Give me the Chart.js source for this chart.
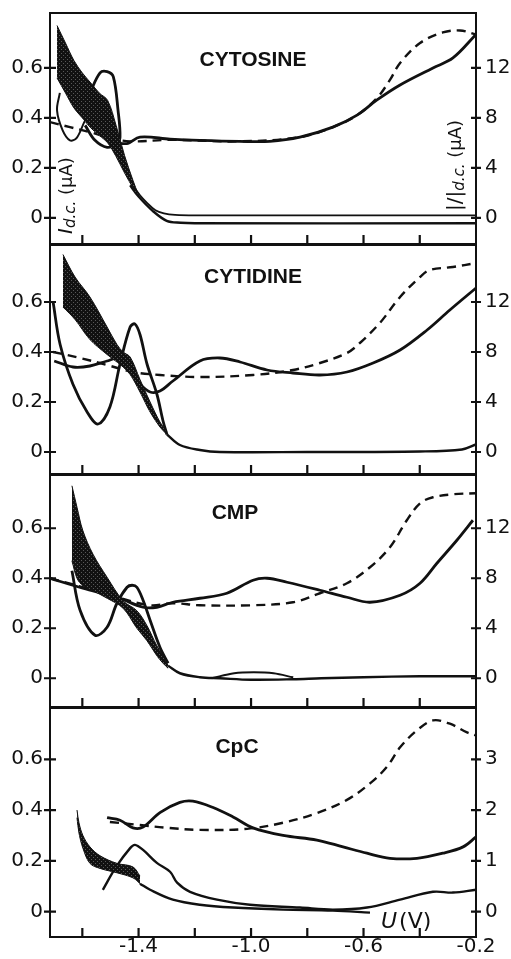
<!DOCTYPE html>
<html>
<head>
<meta charset="utf-8">
<script src="https://cdn.jsdelivr.net/npm/chart.js@4.4.1/dist/chart.umd.min.js"></script>
<style>
html, body { margin: 0; padding: 0; background: #fff; }
#wrap { position: relative; width: 511px; height: 959px; overflow: hidden; }
#wrap canvas { position: absolute; left: 0; }
</style>
</head>
<body>
<div id="wrap">
<canvas id="p1" width="511" height="245" style="top:0px"></canvas>
<canvas id="p2" width="511" height="230" style="top:245px"></canvas>
<canvas id="p3" width="511" height="233" style="top:475px"></canvas>
<canvas id="p4" width="511" height="251" style="top:708px"></canvas>
</div>
<script>
// potential axis (V)
const uMin = -1.715, uMax = -0.2;
const uTickMarks = [-1.6, -1.4, -1.2, -1.0, -0.8, -0.6, -0.4];
const uTickLabels = [-1.4, -1.0, -0.6, -0.2];
// current axes (uA)
const iTicks = [0, 0.2, 0.4, 0.6];
const rightTicks = [0, 4, 8, 12];
const rightTicksCpc = [0, 1, 2, 3];

// CYTOSINE
const cytosineBandU = [-1.69, -1.66, -1.63, -1.60, -1.57, -1.54, -1.51, -1.48, -1.45, -1.42, -1.40];
const cytosineBandHi = [0.77, 0.70, 0.63, 0.58, 0.54, 0.50, 0.47, 0.37, 0.25, 0.15, 0.09];
const cytosineBandLo = [0.56, 0.50, 0.44, 0.40, 0.36, 0.33, 0.30, 0.245, 0.18, 0.12, 0.085];
const cytosineDcU = [-1.45, -1.42, -1.395, -1.37, -1.34, -1.31, -1.27, -1.2, -0.2];
const cytosineDcI = [0.2, 0.13, 0.09, 0.06, 0.03, 0.018, 0.012, 0.01, 0.01];
const cytosineDc2U = [-1.43, -1.40, -1.35, -1.30, -1.25, -1.2, -0.2];
const cytosineDc2I = [0.13, 0.085, 0.028, -0.012, -0.02, -0.022, -0.022];
const cytosineRatioU = [-1.466, -1.438, -1.395, -1.288, -1.182, -1.04, -0.933, -0.826, -0.709, -0.623, -0.552, -0.47, -0.353, -0.282, -0.2];
const cytosineRatioI = [0.298, 0.298, 0.323, 0.315, 0.31, 0.306, 0.306, 0.323, 0.363, 0.411, 0.472, 0.532, 0.60, 0.64, 0.734];
const cytosineDashU = [-1.715, -1.644, -1.573, -1.502, -1.43, -1.288, -1.04, -0.826, -0.709, -0.623, -0.552, -0.506, -0.47, -0.399, -0.318, -0.257, -0.2];
const cytosineDashI = [0.383, 0.363, 0.343, 0.32, 0.306, 0.312, 0.306, 0.323, 0.363, 0.411, 0.48, 0.552, 0.62, 0.70, 0.742, 0.75, 0.734];
const cytosineLoopU = [-1.573, -1.537, -1.512, -1.49, -1.473, -1.466, -1.477, -1.512, -1.555, -1.59];
const cytosineLoopI = [0.50, 0.58, 0.585, 0.565, 0.43, 0.323, 0.298, 0.282, 0.31, 0.37];
const cytosineLoop2U = [-1.68, -1.69, -1.67, -1.644, -1.62, -1.59, -1.555];
const cytosineLoop2I = [0.50, 0.43, 0.35, 0.31, 0.32, 0.39, 0.45];

// CYTIDINE
const cytidineBandU = [-1.669, -1.626, -1.573, -1.512, -1.477, -1.455, -1.43, -1.395, -1.359, -1.324, -1.299];
const cytidineBandHi = [0.79, 0.70, 0.62, 0.50, 0.43, 0.40, 0.38, 0.29, 0.20, 0.12, 0.08];
const cytidineBandLo = [0.58, 0.53, 0.45, 0.39, 0.36, 0.34, 0.31, 0.24, 0.16, 0.10, 0.07];
const cytidineDcU = [-1.299, -1.253, -1.182, -1.111, -0.8, -0.4, -0.25, -0.2];
const cytidineDcI = [0.07, 0.028, 0.008, 0.0, 0.0, 0.002, 0.01, 0.03];
const cytidineDeepU = [-1.704, -1.679, -1.633, -1.583, -1.544, -1.502, -1.466, -1.43, -1.413, -1.395, -1.37, -1.335, -1.313, -1.299];
const cytidineDeepI = [0.60, 0.43, 0.27, 0.16, 0.112, 0.18, 0.352, 0.50, 0.512, 0.47, 0.352, 0.232, 0.124, 0.07];
const cytidineRatioU = [-1.70, -1.633, -1.573, -1.512, -1.477, -1.43, -1.395, -1.359, -1.324, -1.278, -1.182, -1.111, -1.039, -0.943, -0.851, -0.755, -0.659, -0.566, -0.47, -0.374, -0.293, -0.2];
const cytidineRatioI = [0.364, 0.34, 0.344, 0.364, 0.372, 0.324, 0.272, 0.24, 0.244, 0.284, 0.364, 0.376, 0.36, 0.328, 0.316, 0.308, 0.32, 0.356, 0.408, 0.488, 0.568, 0.656];
const cytidineDashU = [-1.704, -1.608, -1.512, -1.42, -1.324, -1.182, -0.993, -0.851, -0.755, -0.659, -0.613, -0.542, -0.47, -0.399, -0.364, -0.282, -0.2];
const cytidineDashI = [0.40, 0.376, 0.348, 0.32, 0.308, 0.30, 0.308, 0.328, 0.356, 0.396, 0.436, 0.516, 0.62, 0.70, 0.728, 0.74, 0.756];

// CMP
const cmpBandU = [-1.637, -1.619, -1.598, -1.562, -1.512, -1.455, -1.406, -1.37, -1.335, -1.313, -1.295];
const cmpBandHi = [0.77, 0.684, 0.59, 0.496, 0.404, 0.31, 0.27, 0.21, 0.13, 0.09, 0.05];
const cmpBandLo = [0.47, 0.40, 0.37, 0.35, 0.32, 0.28, 0.20, 0.15, 0.09, 0.06, 0.04];
const cmpDcU = [-1.295, -1.253, -1.182, -1.111, -1.0, -0.85, -0.75, -0.6, -0.4, -0.2];
const cmpDcI = [0.05, 0.02, 0.004, 0.0, -0.006, -0.004, 0.0, 0.004, 0.008, 0.008];
const cmpBumpU = [-1.14, -1.06, -0.99, -0.92, -0.85];
const cmpBumpI = [0.0, 0.02, 0.024, 0.02, 0.004];
const cmpDeepU = [-1.637, -1.608, -1.555, -1.512, -1.477, -1.441, -1.423, -1.406, -1.384, -1.359, -1.324, -1.295];
const cmpDeepI = [0.43, 0.272, 0.172, 0.204, 0.30, 0.364, 0.372, 0.364, 0.312, 0.232, 0.124, 0.06];
const cmpRatioU = [-1.715, -1.598, -1.477, -1.384, -1.335, -1.278, -1.182, -1.086, -0.993, -0.943, -0.872, -0.755, -0.659, -0.577, -0.47, -0.399, -0.339, -0.268, -0.211];
const cmpRatioI = [0.40, 0.36, 0.324, 0.284, 0.284, 0.304, 0.32, 0.34, 0.392, 0.40, 0.384, 0.352, 0.324, 0.304, 0.332, 0.38, 0.46, 0.552, 0.632];
const cmpDashU = [-1.715, -1.598, -1.477, -1.359, -1.278, -1.182, -0.993, -0.851, -0.755, -0.659, -0.577, -0.506, -0.446, -0.399, -0.353, -0.282, -0.2];
const cmpDashI = [0.40, 0.364, 0.324, 0.292, 0.30, 0.292, 0.292, 0.304, 0.34, 0.38, 0.444, 0.524, 0.632, 0.70, 0.724, 0.736, 0.74];

// CpC
const cpcBandU = [-1.619, -1.612, -1.598, -1.573, -1.537, -1.477, -1.42, -1.395];
const cpcBandHi = [0.40, 0.35, 0.30, 0.255, 0.22, 0.19, 0.176, 0.14];
const cpcBandLo = [0.37, 0.31, 0.25, 0.19, 0.17, 0.153, 0.133, 0.11];
const cpcDcU = [-1.395, -1.359, -1.278, -1.182, -1.064, -0.886, -0.709, -0.577];
const cpcDcI = [0.11, 0.086, 0.047, 0.027, 0.016, 0.008, 0.004, -0.004];
const cpcBumpU = [-1.527, -1.48, -1.43, -1.413, -1.384, -1.335, -1.288, -1.263, -1.217, -1.121, -1.004, -0.826, -0.709, -0.588, -0.47, -0.353, -0.282, -0.2];
const cpcBumpI = [0.086, 0.176, 0.25, 0.263, 0.243, 0.192, 0.157, 0.114, 0.078, 0.047, 0.027, 0.016, 0.008, 0.016, 0.047, 0.078, 0.075, 0.086];
const cpcRatioU = [-1.512, -1.466, -1.42, -1.384, -1.324, -1.253, -1.207, -1.135, -1.064, -0.993, -0.886, -0.766, -0.673, -0.588, -0.506, -0.41, -0.318, -0.246, -0.2];
const cpcRatioI = [0.37, 0.36, 0.33, 0.333, 0.39, 0.43, 0.435, 0.41, 0.373, 0.33, 0.30, 0.282, 0.255, 0.23, 0.21, 0.21, 0.23, 0.255, 0.294];
const cpcDashU = [-1.502, -1.395, -1.299, -1.182, -1.014, -0.886, -0.766, -0.659, -0.577, -0.517, -0.47, -0.41, -0.353, -0.293, -0.232, -0.2];
const cpcDashI = [0.353, 0.341, 0.33, 0.322, 0.326, 0.35, 0.388, 0.44, 0.505, 0.57, 0.647, 0.714, 0.753, 0.74, 0.706, 0.694];

Chart.defaults.font.family = 'DejaVu Sans';
Chart.defaults.color = '#111';

const ink = '#111';

function pts(u, i) {
    return u.map((v, k) => ({ x: v, y: i[k] }));
}

function stipple() {
    const c = document.createElement('canvas');
    c.width = 4;
    c.height = 4;
    const g = c.getContext('2d');
    g.fillStyle = ink;
    g.fillRect(0, 0, 4, 4);
    g.fillStyle = 'rgba(255,255,255,0.3)';
    g.fillRect(1, 1, 1, 1);
    g.fillRect(3, 3, 1, 1);
    return g.createPattern(c, 'repeat');
}
const bandFill = stipple();

function curve(u, i, width, dash) {
    return {
        data: pts(u, i),
        showLine: true,
        borderColor: ink,
        borderWidth: width,
        borderDash: dash || [],
        pointRadius: 0,
        fill: false,
        tension: 0.35
    };
}

function band(u, hi, lo) {
    const top = curve(u, hi, 1);
    top.fill = '+1';
    top.backgroundColor = bandFill;
    return [top, curve(u, lo, 1)];
}

function drawRotated(ctx, x, y, parts) {
    ctx.save();
    ctx.translate(x, y);
    ctx.rotate(-Math.PI / 2);
    ctx.textBaseline = 'middle';
    ctx.textAlign = 'left';
    let cx = 0;
    parts.forEach(([txt, font, dy]) => {
        ctx.font = font;
        ctx.fillText(txt, cx, dy);
        cx += ctx.measureText(txt).width;
    });
    ctx.restore();
}

function drawRun(ctx, x, y, parts) {
    ctx.save();
    ctx.textBaseline = 'middle';
    ctx.textAlign = 'left';
    let cx = x;
    parts.forEach(([txt, font]) => {
        ctx.font = font;
        ctx.fillText(txt, cx, y);
        cx += ctx.measureText(txt).width + 2;
    });
    ctx.restore();
}

const framePlugin = {
    id: 'frame',
    afterDraw(chart) {
        const { ctx, chartArea: a, scales } = chart;
        const p = chart.options.plugins.frame;
        ctx.save();
        ctx.strokeStyle = ink;
        ctx.fillStyle = ink;
        ctx.lineWidth = 2;
        ctx.strokeRect(a.left, a.top, a.right - a.left, a.bottom - a.top);
        ctx.lineWidth = 2.2;
        ctx.beginPath();
        iTicks.forEach(v => {
            const y = scales.y.getPixelForValue(v);
            ctx.moveTo(a.left - 6, y);
            ctx.lineTo(a.left + 6, y);
            ctx.moveTo(a.right - 5, y);
            ctx.lineTo(a.right + 5, y);
        });
        ctx.stroke();
        ctx.beginPath();
        uTickMarks.forEach(v => {
            const x = scales.x.getPixelForValue(v);
            ctx.moveTo(x, a.bottom);
            ctx.lineTo(x, a.bottom - 9);
        });
        ctx.stroke();
        ctx.font = 'bold 21px "Liberation Sans"';
        ctx.textAlign = 'center';
        ctx.textBaseline = 'middle';
        ctx.fillText(p.title, p.titleX, a.top + p.titleDY);
        if (p.axisLabels) {
            drawRotated(ctx, 67, 234, [
                ['I', 'italic 20px "DejaVu Sans"', 0],
                ['d.c.', 'italic 15px "DejaVu Sans"', 4],
                [' (\u03bcA)', '18px "DejaVu Sans"', 0]
            ]);
            drawRotated(ctx, 456, 211, [
                ['|/|', '20px "DejaVu Sans"', 0],
                ['d.c.', 'italic 15px "DejaVu Sans"', 4],
                [' (\u03bcA)', '18px "DejaVu Sans"', 0]
            ]);
        }
        if (p.uLabel) {
            drawRun(ctx, 381, a.top + 214, [
                ['U', 'italic 22px "DejaVu Sans"'],
                ['(V)', '22px "DejaVu Sans"']
            ]);
        }
        ctx.restore();
    }
};

function makePanel(id, cfg) {
    const fixed = (list) => (scale) => { scale.ticks = list.map(v => ({ value: v })); };
    const noPad = (scale) => {
        scale.paddingTop = 0;
        scale.paddingBottom = 0;
        scale.paddingLeft = 0;
        scale.paddingRight = 0;
    };
    new Chart(document.getElementById(id), {
        type: 'scatter',
        data: { datasets: cfg.datasets },
        options: {
            responsive: false,
            animation: false,
            devicePixelRatio: 1,
            layout: { padding: { top: cfg.padTop, bottom: cfg.padBottom, left: 0, right: 0 } },
            plugins: {
                legend: { display: false },
                tooltip: { enabled: false },
                frame: {
                    title: cfg.title,
                    titleX: cfg.titleX,
                    titleDY: cfg.titleDY,
                    axisLabels: cfg.axisLabels,
                    uLabel: cfg.showU
                }
            },
            scales: {
                x: {
                    type: 'linear',
                    min: uMin,
                    max: uMax,
                    afterBuildTicks: fixed(uTickLabels),
                    afterFit: (scale) => { noPad(scale); scale.height = cfg.showU ? 22 : 0; },
                    grid: { display: false, drawTicks: false },
                    border: { display: false },
                    ticks: {
                        display: cfg.showU,
                        padding: 0,
                        maxRotation: 0,
                        font: { size: 20, lineHeight: 1 },
                        callback: v => v.toFixed(1)
                    }
                },
                y: {
                    position: 'left',
                    min: cfg.iMin,
                    max: cfg.iMax,
                    afterBuildTicks: fixed(iTicks),
                    afterFit: (scale) => { noPad(scale); scale.width = 50; },
                    grid: { display: false, drawTicks: false },
                    border: { display: false },
                    ticks: { padding: 7, font: { size: 20 }, callback: v => String(v) }
                },
                y2: {
                    position: 'right',
                    min: cfg.iMin * cfg.factor,
                    max: cfg.iMax * cfg.factor,
                    afterBuildTicks: fixed(cfg.rightTicks),
                    afterFit: (scale) => { noPad(scale); scale.width = 35; },
                    grid: { display: false, drawTicks: false },
                    border: { display: false },
                    ticks: { padding: 9, font: { size: 20 }, callback: v => String(v) }
                }
            }
        },
        plugins: [framePlugin]
    });
}

makePanel('p1', {
    title: 'CYTOSINE', titleX: 253, titleDY: 47, axisLabels: true, showU: false,
    padTop: 13, padBottom: 1, iMin: -0.105, iMax: 0.82, factor: 20, rightTicks: rightTicks,
    datasets: [
        ...band(cytosineBandU, cytosineBandHi, cytosineBandLo),
        curve(cytosineDcU, cytosineDcI, 1.8),
        curve(cytosineDc2U, cytosineDc2I, 2.4),
        curve(cytosineRatioU, cytosineRatioI, 2.8),
        curve(cytosineDashU, cytosineDashI, 2.4, [9, 6]),
        curve(cytosineLoopU, cytosineLoopI, 2.8),
        curve(cytosineLoop2U, cytosineLoop2I, 2)
    ]
});

makePanel('p2', {
    title: 'CYTIDINE', titleX: 253, titleDY: 32, axisLabels: false, showU: false,
    padTop: 0, padBottom: 1, iMin: -0.088, iMax: 0.828, factor: 20, rightTicks: rightTicks,
    datasets: [
        ...band(cytidineBandU, cytidineBandHi, cytidineBandLo),
        curve(cytidineDcU, cytidineDcI, 2.4),
        curve(cytidineDeepU, cytidineDeepI, 2.8),
        curve(cytidineRatioU, cytidineRatioI, 2.8),
        curve(cytidineDashU, cytidineDashI, 2.4, [9, 6])
    ]
});

makePanel('p3', {
    title: 'CMP', titleX: 235, titleDY: 38, axisLabels: false, showU: false,
    padTop: 0, padBottom: 1, iMin: -0.115, iMax: 0.813, factor: 20, rightTicks: rightTicks,
    datasets: [
        ...band(cmpBandU, cmpBandHi, cmpBandLo),
        curve(cmpDcU, cmpDcI, 2.4),
        curve(cmpBumpU, cmpBumpI, 1.8),
        curve(cmpDeepU, cmpDeepI, 2.8),
        curve(cmpRatioU, cmpRatioI, 2.8),
        curve(cmpDashU, cmpDashI, 2.4, [9, 6])
    ]
});

makePanel('p4', {
    title: 'CpC', titleX: 237, titleDY: 39, axisLabels: false, showU: true,
    padTop: 0, padBottom: 0, iMin: -0.10, iMax: 0.802, factor: 5, rightTicks: rightTicksCpc,
    datasets: [
        ...band(cpcBandU, cpcBandHi, cpcBandLo),
        curve(cpcDcU, cpcDcI, 2.4),
        curve(cpcBumpU, cpcBumpI, 2.4),
        curve(cpcRatioU, cpcRatioI, 2.8),
        curve(cpcDashU, cpcDashI, 2.4, [9, 6])
    ]
});
</script>
</body>
</html>
